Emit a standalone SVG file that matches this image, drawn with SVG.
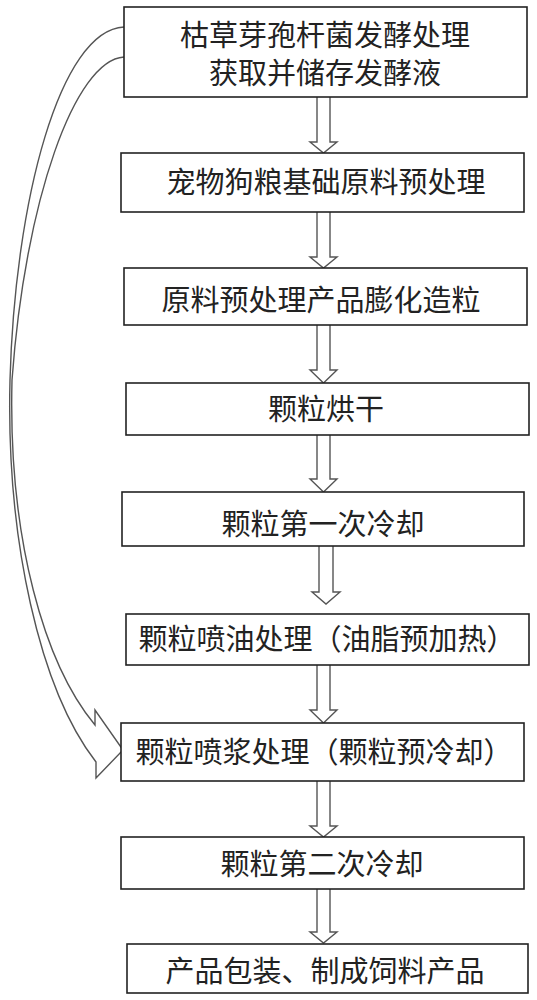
<svg xmlns="http://www.w3.org/2000/svg" width="537" height="1000" viewBox="0 0 537 1000">
<style>
.box{fill:#fff;stroke:#222;stroke-width:1.6}
.t{font-family:"Noto Sans CJK SC","Noto Sans",sans-serif;font-size:29px;fill:#222;text-anchor:middle}
.arr{fill:#fff;stroke:#555;stroke-width:1.4;stroke-linejoin:miter}
</style>
<rect width="537" height="1000" fill="#fff"/>
<g id="connectors">
<path class="arr" d="M124,27 C60,30 15,200 10,380 C6,540 40,690 96,762 L96,778 L123,750 L95,710 L95,725 C45,665 8,540 12,380 C25,200 75,60 124,57" fill="none"/>
<path class="arr" d="M317,97 L317,142 L310,142 L323.5,153 L337,142 L330,142 L330,97"/>
<path class="arr" d="M317,212 L317,257 L310,257 L323.5,268 L337,257 L330,257 L330,212"/>
<path class="arr" d="M317,325 L317,370 L310,370 L323.5,383 L337,370 L330,370 L330,325"/>
<path class="arr" d="M317,435 L317,479 L310,479 L323.5,492 L337,479 L330,479 L330,435"/>
<path class="arr" d="M319,546 L319,592 L312,592 L326,604 L340,592 L333,592 L333,546"/>
<path class="arr" d="M317,665 L317,710 L310,710 L323.5,723 L337,710 L330,710 L330,665"/>
<path class="arr" d="M317,781 L317,826 L310,826 L323.5,837 L337,826 L330,826 L330,781"/>
<path class="arr" d="M317,889 L317,932 L310,932 L323.5,943 L337,932 L330,932 L330,889"/>
</g>
<g id="n1"><rect class="box" x="124" y="7" width="403" height="90"/>
<text class="t" x="325" y="46">枯草芽孢杆菌发酵处理</text>
<text class="t" x="325" y="84">获取并储存发酵液</text></g>
<g id="n2"><rect class="box" x="121" y="153" width="403" height="59"/>
<text class="t" x="326" y="193">宠物狗粮基础原料预处理</text></g>
<g id="n3"><rect class="box" x="124" y="268" width="403" height="57"/>
<text class="t" x="321" y="311">原料预处理产品膨化造粒</text></g>
<g id="n4"><rect class="box" x="126" y="383" width="403" height="52"/>
<text class="t" x="326" y="420">颗粒烘干</text></g>
<g id="n5"><rect class="box" x="122" y="492" width="402" height="54"/>
<text class="t" x="323" y="535">颗粒第一次冷却</text></g>
<g id="n6"><rect class="box" x="126" y="614" width="403" height="51"/>
<text class="t" x="327" y="650">颗粒喷油处理（油脂预加热）</text></g>
<g id="n7"><rect class="box" x="121" y="723" width="403" height="58"/>
<text class="t" x="324" y="763">颗粒喷浆处理（颗粒预冷却）</text></g>
<g id="n8"><rect class="box" x="121" y="837" width="403" height="52"/>
<text class="t" x="322" y="875">颗粒第二次冷却</text></g>
<g id="n9"><rect class="box" x="127" y="944" width="401" height="49"/>
<text class="t" x="325" y="982">产品包装、制成饲料产品</text></g>
</svg>
